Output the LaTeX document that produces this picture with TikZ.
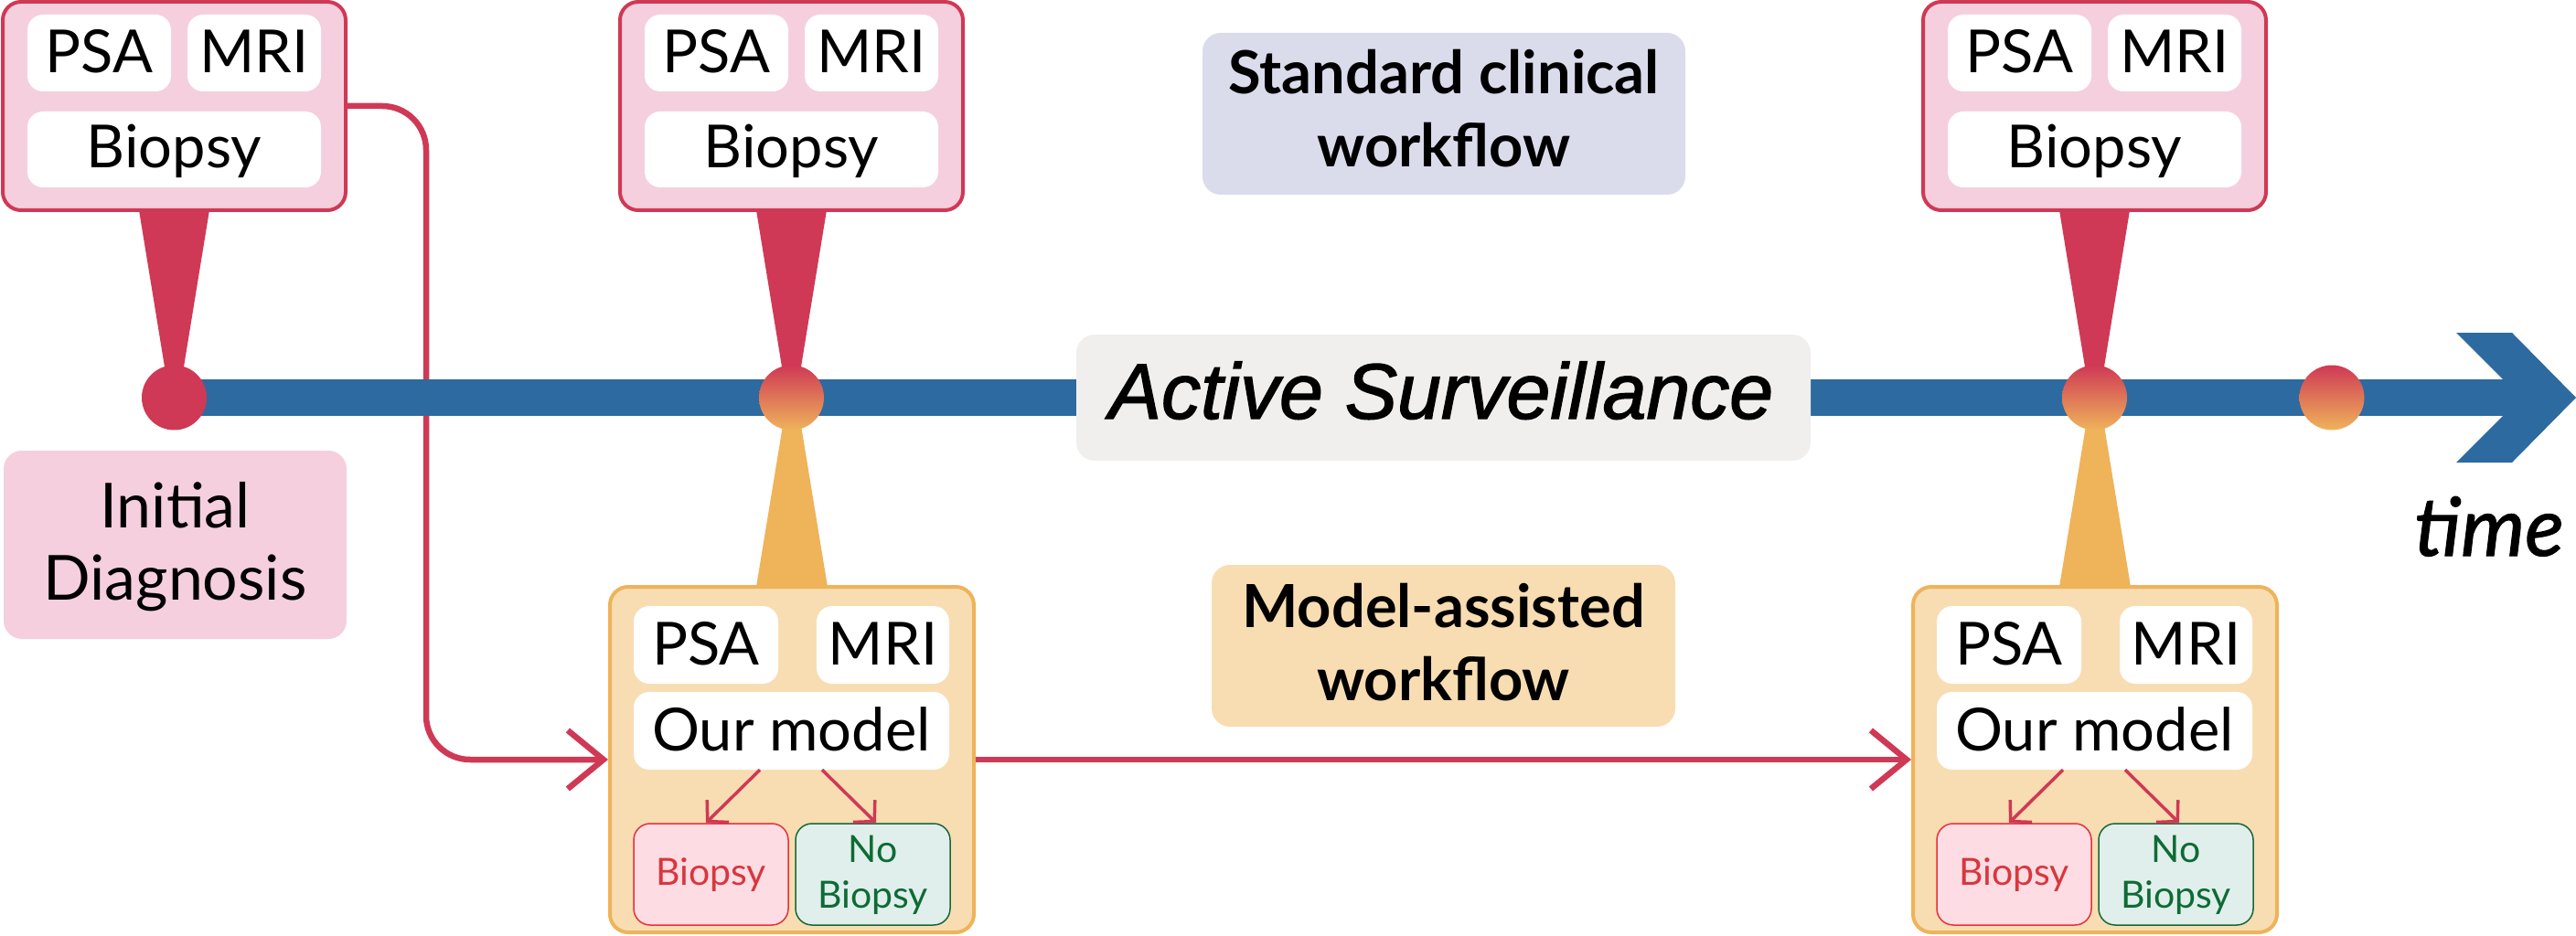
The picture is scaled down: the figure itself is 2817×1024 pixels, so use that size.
\documentclass[tikz,border=0pt]{standalone}
\usepackage{fontspec}
\setmainfont{Lato}
\newfontfamily\asfont[FakeBold=1.6]{Liberation Sans}
\newfontfamily\timefont[FakeBold=1.2]{Lato}
\usetikzlibrary{arrows.meta,calc}
\pgfdeclarelayer{bg}
\pgfsetlayers{bg,main}
\definecolor{cred}{RGB}{207,57,85}
\definecolor{cpink}{RGB}{245,207,221}
\definecolor{cblue}{RGB}{45,106,159}
\definecolor{corange}{RGB}{239,179,90}
\definecolor{clorange}{RGB}{248,221,178}
\definecolor{cstd}{RGB}{218,220,236}
\definecolor{cactive}{RGB}{240,239,238}
\definecolor{cbiofill}{RGB}{253,221,227}
\definecolor{cbiodraw}{RGB}{232,48,60}
\definecolor{cbiotext}{RGB}{217,54,62}
\definecolor{cnofill}{RGB}{224,239,236}
\definecolor{cnodraw}{RGB}{23,104,58}
\definecolor{cnotext}{RGB}{14,107,53}
\tikzset{
  topframe/.style={draw=cred, fill=cpink, line width=4pt, rounded corners=20pt, inner sep=0pt},
  modframe/.style={draw=corange, fill=clorange, line width=4pt, rounded corners=20pt, inner sep=0pt},
  wbox/.style={fill=white, rounded corners=17pt, inner sep=0pt},
  biobox/.style={fill=cbiofill, draw=cbiodraw, line width=1.5pt, rounded corners=18pt, inner sep=0pt},
  nobox/.style={fill=cnofill, draw=cnodraw, line width=1.5pt, rounded corners=18pt, inner sep=0pt},
  lblbox/.style={rounded corners=20pt, inner sep=0pt},
  lbl/.style={inner sep=0pt, anchor=base},
  fA/.style={font=\fontsize{65}{78}\selectfont},
  fS/.style={font=\fontsize{41}{50}\selectfont},
  fB/.style={font=\fontsize{65}{78}\selectfont\bfseries},
  fD/.style={font=\fontsize{68}{80}\selectfont},
  gcirc/.style={circle, minimum size=71pt, inner sep=0pt, top color=cred, bottom color=corange, draw=none},
  conn/.style={draw=cred, line width=6.5pt, -{Straight Barb[length=39pt,width=64pt]}},
  smallarr/.style={draw=cred, line width=3.5pt, -{Straight Barb[length=16pt,width=34pt]}}
}
\newcommand\TopBox[2]{%
  \fill[cred] (#2+149,230) -- (#2+226,230) -- (#2+192.5,435) -- (#2+182.5,435) -- cycle;
  \node[topframe, minimum width=375pt, minimum height=228pt] (top#1) at (#2+187.5,116) {};
  \node[wbox, minimum width=157pt, minimum height=84pt] (tpsa#1) at (#2+105.5,58) {};
  \node[wbox, minimum width=146pt, minimum height=84pt] (tmri#1) at (#2+275,58) {};
  \node[wbox, minimum width=321pt, minimum height=83pt] (tbio#1) at (#2+187.5,163.5) {};
  \node[lbl, fA] (tpsaT#1) at (#2+105.5,80) {PSA};
  \node[lbl, fA] (tmriT#1) at (#2+275,80) {MRI};
  \node[lbl, fA] (tbioT#1) at (#2+187.5,184) {Biopsy};
}
\newcommand\ModelBox[2]{%
  \fill[corange] (#2+194,435) -- (#2+204,435) -- (#2+238,642) -- (#2+160,642) -- cycle;
  \node[modframe, minimum width=398pt, minimum height=378pt] (mod#1) at (#2+199,831) {};
  \node[wbox, minimum width=158pt, minimum height=85pt] (mpsa#1) at (#2+105,705.5) {};
  \node[wbox, minimum width=145pt, minimum height=85pt] (mmri#1) at (#2+298.5,705.5) {};
  \node[wbox, minimum width=345pt, minimum height=85pt] (mom#1) at (#2+198.5,799.5) {};
  \node[biobox, minimum width=169pt, minimum height=111pt] (mbio#1) at (#2+110.5,956.5) {};
  \node[nobox, minimum width=169pt, minimum height=111pt] (mno#1) at (#2+287.5,956.5) {};
  \node[lbl, fA] (mpsaT#1) at (#2+105,727) {PSA};
  \node[lbl, fA] (mmriT#1) at (#2+298.5,727) {MRI};
  \node[lbl, fA] (momT#1) at (#2+198.5,821) {Our model};
  \node[lbl, fS, text=cbiotext] (mbioT#1) at (#2+110.5,968) {Biopsy};
  \node[lbl, fS, text=cnotext] (mnoT#1) at (#2+287.5,943) {No};
  \node[lbl, fS, text=cnotext] (mnoU#1) at (#2+287.5,993) {Biopsy};
  \draw[smallarr] ($(mom#1.south)+(-34.5,0)$) -- ($(mbio#1.north)+(-5.5,0)$);
  \draw[smallarr] ($(mom#1.south)+(33.5,0)$) -- ($(mno#1.north)+(3.5,0)$);
}
\begin{document}
\begin{tikzpicture}[x=1pt,y=-1pt]
\useasboundingbox (0,0) rectangle (2817,1024);
% timeline bar and arrow head
\fill[cblue] (190.5,415) rectangle (2757,455);
\fill[cblue] (2686,364) -- (2747,364) -- (2817,435) -- (2747,506) -- (2686,506) -- (2757,435) -- cycle;
% Active surveillance label
\node[lblbox, fill=cactive, minimum width=803pt, minimum height=138pt] (asbox) at (1578.5,435) {};
\node[lbl, font=\fontsize{86}{100}\selectfont\asfont\itshape] (ast) at (1576,458) {Active Surveillance};
% boxes
\TopBox{A}{3}
\TopBox{B}{678}
\TopBox{C}{2103}
\ModelBox{B}{667}
\ModelBox{C}{2092}
% circles
\node[circle, fill=cred, minimum size=71pt, inner sep=0pt] (cA) at (190.5,435) {};
\node[gcirc] (cB) at (865.5,435) {};
\node[gcirc] (cC) at (2290.5,435) {};
\node[gcirc] (cD) at (2550,435) {};
% labels
\node[lblbox, fill=cpink, minimum width=375pt, minimum height=206pt] (initbox) at (191.5,596) {};
\node[lbl, fD] (initT) at (191.5,577) {Initial};
\node[lbl, fD] (initU) at (191.5,656) {Diagnosis};
\node[lblbox, fill=cstd, minimum width=528pt, minimum height=177pt] (stdbox) at (1579,124.5) {};
\node[lbl, fB] (stdT) at (1579,103) {Standard clinical};
\node[lbl, fB] (stdU) at (1579,183) {workflow};
\node[lblbox, fill=clorange, minimum width=507pt, minimum height=177pt] (mabox) at (1578.5,706.5) {};
\node[lbl, fB] (maT) at (1578.5,686) {Model-assisted};
\node[lbl, fB] (maU) at (1578.5,766) {workflow};
\node[lbl, font=\fontsize{89}{100}\selectfont\timefont\itshape] (timeT) at (2722,608) {time};
% connectors
\coordinate (bend) at (466,831);
\begin{pgfonlayer}{bg}
\draw[conn, rounded corners=48pt] (topA.east) -| (bend) -- (modB.west);
\end{pgfonlayer}
\draw[conn] (modB.east) -- (modC.west);
\end{tikzpicture}
\end{document}
